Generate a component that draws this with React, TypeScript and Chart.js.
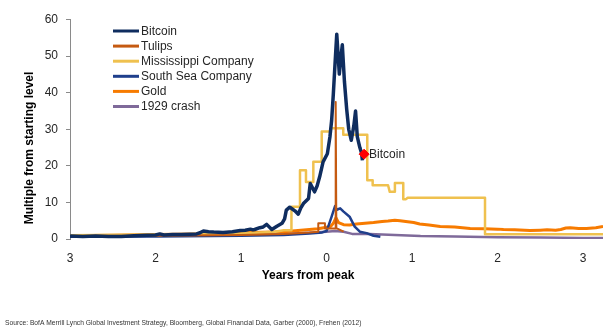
import React, { useEffect, useRef } from 'react';
import { Chart, registerables } from 'chart.js';

Chart.register(...registerables);

const FONT = '"Liberation Sans", Arial, sans-serif';

// ---- Data ----
const seriesNames = ['Bitcoin', 'Tulips', 'Mississippi Company', 'South Sea Company', 'Gold', '1929 crash'];
const seriesColors = ['#0f2d5f', '#c55a11', '#efc14f', '#1f3f8c', '#f77b00', '#7f6a9a'];

const xTickValues = [-3, -2, -1, 0, 1, 2, 3];
const yTickValues = [0, 10, 20, 30, 40, 50, 60];

const bitcoinX = [-3.0, -2.85, -2.7, -2.55, -2.4, -2.25, -2.1, -2.0, -1.95, -1.9, -1.8, -1.7, -1.6, -1.52, -1.48, -1.44, -1.38, -1.32, -1.21, -1.1, -1.01, -0.95, -0.89, -0.86, -0.84, -0.78, -0.74, -0.7, -0.64, -0.58, -0.52, -0.49, -0.47, -0.43, -0.4, -0.37, -0.33, -0.3, -0.27, -0.21, -0.19, -0.14, -0.11, -0.08, -0.04, 0.01, 0.04, 0.06, 0.08, 0.1, 0.12, 0.15, 0.17, 0.185, 0.21, 0.236, 0.26, 0.29, 0.32, 0.34, 0.36, 0.39, 0.41, 0.42];
const bitcoinY = [0.8, 0.7, 0.8, 0.7, 0.7, 0.9, 1.0, 1.1, 1.4, 1.1, 1.2, 1.2, 1.3, 1.4, 1.7, 2.2, 2.0, 1.9, 1.8, 2.0, 2.3, 2.4, 2.7, 2.5, 2.6, 3.1, 3.3, 4.0, 2.6, 3.5, 4.3, 5.5, 7.9, 8.7, 8.2, 7.7, 6.8, 8.5, 9.7, 11.1, 15.2, 12.9, 14.5, 17.0, 21.1, 23.3, 27.9, 32.4, 39.7, 48, 56.0, 45.1, 50, 53.1, 43, 35.5, 30, 27, 31, 35, 28, 25, 23.5, 21.5];

const tulipsX = [-3, -2, -1, -0.5, -0.2, -0.096, -0.096, -0.018, -0.018, 0.1, 0.105, 0.11, 0.115, 0.2];
const tulipsY = [0.8, 0.9, 1.1, 1.4, 1.8, 2.0, 4.3, 4.3, 2.9, 2.9, 37.5, 37.5, 3.0, 2.0];

const mississippiX = [-3, -2, -1, -0.6, -0.5, -0.41, -0.41, -0.31, -0.31, -0.24, -0.24, -0.154, -0.154, -0.056, -0.056, 0.05, 0.05, 0.196, 0.196, 0.477, 0.477, 0.54, 0.54, 0.72, 0.74, 0.8, 0.8, 0.898, 0.898, 0.93, 0.95, 1.854, 1.854, 3.234];
const mississippiY = [1.0, 1.2, 1.5, 2.0, 2.4, 2.4, 8.8, 8.8, 18.8, 18.8, 15.6, 15.6, 21.1, 21.1, 29.4, 29.4, 30.3, 30.3, 28.5, 28.5, 16.1, 16.1, 14.7, 14.7, 12.9, 12.9, 15.3, 15.3, 10.9, 10.9, 11.3, 11.3, 1.3, 1.3];

const southSeaX = [-3, -2, -1, -0.5, -0.2, -0.05, 0.0, 0.02, 0.06, 0.1, 0.12, 0.16, 0.2, 0.27, 0.33, 0.39, 0.47, 0.55, 0.63];
const southSeaY = [0.6, 0.7, 0.9, 1.1, 1.5, 1.8, 2.2, 3.4, 6.1, 9.0, 8.0, 8.4, 7.5, 6.1, 3.4, 2.0, 1.6, 0.9, 0.6];

const goldX = [-3, -2.5, -2, -1.5, -1, -0.5, -0.3, -0.1, 0, 0.05, 0.08, 0.11, 0.14, 0.2, 0.27, 0.35, 0.45, 0.55, 0.65, 0.72, 0.8, 0.86, 0.95, 1.02, 1.09, 1.2, 1.33, 1.5, 1.68, 1.85, 2.0, 2.07, 2.2, 2.38, 2.5, 2.58, 2.68, 2.74, 2.8, 2.85, 2.95, 3.04, 3.15, 3.234];
const goldY = [0.9, 1.0, 1.2, 1.4, 1.7, 2.0, 2.4, 2.8, 3.2, 3.5, 4.3, 5.8, 4.5, 3.9, 3.8, 4.1, 4.3, 4.5, 4.8, 4.9, 5.1, 5.0, 4.7, 4.5, 4.1, 3.8, 3.4, 3.3, 2.9, 2.8, 2.7, 2.6, 2.5, 2.3, 2.4, 2.5, 2.4, 2.6, 3.0, 3.1, 2.9, 2.9, 3.1, 3.4];

const crashX = [-3, -2, -1, -0.5, -0.2, 0, 0.1, 0.2, 0.3, 0.5, 0.8, 1.1, 1.5, 2.0, 2.5, 3.0, 3.234];
const crashY = [0.9, 1.0, 1.2, 1.4, 1.7, 2.0, 2.2, 2.0, 1.4, 1.4, 1.1, 0.8, 0.7, 0.5, 0.4, 0.3, 0.3];

const markerLabel = 'Bitcoin';
const markerX = [0.44];
const markerY = [23.2];

const xTitle = 'Years from peak';
const yTitle = 'Multiple from starting level';
const sourceText = 'Source: BofA Merrill Lynch Global Investment Strategy, Bloomberg, Global Financial Data, Garber (2000), Frehen (2012)';

const zip = (xs: number[], ys: number[]) => xs.slice(0, Math.min(xs.length, ys.length)).map((x, i) => ({ x, y: ys[i] }));

const overlayPlugin = {
  id: 'overlay',
  afterDraw(chart: any) {
    const ctx = chart.ctx as CanvasRenderingContext2D;
    ctx.save();
    // Legend
    ctx.textBaseline = 'middle';
    ctx.textAlign = 'left';
    ctx.font = `12px ${FONT}`;
    seriesNames.forEach((name, i) => {
      const y = 31 + i * 15.1;
      ctx.strokeStyle = seriesColors[i];
      ctx.lineWidth = 3;
      ctx.beginPath();
      ctx.moveTo(113, y);
      ctx.lineTo(139, y);
      ctx.stroke();
      ctx.fillStyle = '#262626';
      ctx.fillText(name, 141, y + 0.5);
    });
    // Marker label
    const meta = chart.getDatasetMeta(0);
    if (meta && meta.data && meta.data[0]) {
      const p = meta.data[0];
      ctx.fillStyle = '#262626';
      ctx.font = `12px ${FONT}`;
      ctx.fillText(markerLabel, p.x + 5, p.y + 0.5);
    }
    // Y title
    ctx.save();
    ctx.translate(30, 148);
    ctx.rotate(-Math.PI / 2);
    ctx.textAlign = 'center';
    ctx.font = `bold 12px ${FONT}`;
    ctx.fillStyle = '#000000';
    ctx.fillText(yTitle, 0, 0);
    ctx.restore();
    // X title
    ctx.textAlign = 'center';
    ctx.font = `bold 12px ${FONT}`;
    ctx.fillStyle = '#000000';
    ctx.fillText(xTitle, 308, 276);
    // Source
    ctx.font = `10px ${FONT}`;
    const w = ctx.measureText(sourceText).width;
    const size = (10 * 357) / w;
    ctx.font = `${size.toFixed(2)}px ${FONT}`;
    ctx.textAlign = 'left';
    ctx.fillStyle = '#333333';
    ctx.fillText(sourceText, 5, 323);
    ctx.restore();
  },
};

export default function App() {
  const canvasRef = useRef<HTMLCanvasElement | null>(null);

  useEffect(() => {
    if (!canvasRef.current) return;
    const lineDs = (label: string, xs: number[], ys: number[], color: string, width: number) => ({
      label,
      data: zip(xs, ys),
      borderColor: color,
      backgroundColor: color,
      borderWidth: width,
      pointRadius: 0,
      tension: 0,
      fill: false,
      borderJoinStyle: 'round' as const,
    });
    const chart = new Chart(canvasRef.current, {
      type: 'line',
      data: {
        datasets: [
          {
            label: markerLabel + ' marker',
            data: zip(markerX, markerY),
            showLine: false,
            pointStyle: 'rectRot',
            pointRadius: 5,
            pointBackgroundColor: '#ff0000',
            pointBorderColor: '#ff0000',
            borderColor: '#ff0000',
            backgroundColor: '#ff0000',
          } as any,
          lineDs(seriesNames[0], bitcoinX, bitcoinY, seriesColors[0], 3.5),
          lineDs(seriesNames[1], tulipsX, tulipsY, seriesColors[1], 2),
          lineDs(seriesNames[2], mississippiX, mississippiY, seriesColors[2], 2.5),
          lineDs(seriesNames[3], southSeaX, southSeaY, seriesColors[3], 2.5),
          lineDs(seriesNames[4], goldX, goldY, seriesColors[4], 3),
          lineDs(seriesNames[5], crashX, crashY, seriesColors[5], 2.5),
        ],
      },
      options: {
        responsive: false,
        animation: false,
        events: [],
        layout: { padding: { left: 0, right: 9, top: 19.6, bottom: 0 } },
        plugins: { legend: { display: false }, tooltip: { enabled: false }, title: { display: false } },
        scales: {
          x: {
            type: 'linear',
            min: -3,
            max: 3.234,
            afterBuildTicks: (scale: any) => {
              scale.ticks = xTickValues.map((v) => ({ value: v }));
            },
            afterFit: (scale: any) => {
              scale.height = 93;
            },
            grid: { display: false, drawTicks: false },
            border: { display: false },
            ticks: {
              padding: 12,
              color: '#262626',
              font: { family: FONT, size: 12 },
              maxRotation: 0,
              autoSkip: false,
              callback: (v: any) => String(Math.abs(Number(v))),
            },
          },
          y: {
            type: 'linear',
            min: 0,
            max: 60,
            afterBuildTicks: (scale: any) => {
              scale.ticks = yTickValues.map((v) => ({ value: v }));
            },
            afterFit: (scale: any) => {
              scale.width = 70;
            },
            grid: { display: true, drawOnChartArea: false, drawTicks: true, tickLength: 4, color: '#8a8a8a', lineWidth: 1 },
            border: { display: true, color: '#8a8a8a', width: 1 },
            ticks: {
              padding: 8,
              color: '#262626',
              font: { family: FONT, size: 12 },
            },
          },
        },
      },
      plugins: [overlayPlugin],
    });
    return () => chart.destroy();
  }, []);

  return (
    <div style={{ position: 'absolute', left: 0, top: 0, width: 612, height: 332, background: '#ffffff' }}>
      <canvas ref={canvasRef} width={612} height={332} style={{ display: 'block', width: 612, height: 332 }} />
    </div>
  );
}
